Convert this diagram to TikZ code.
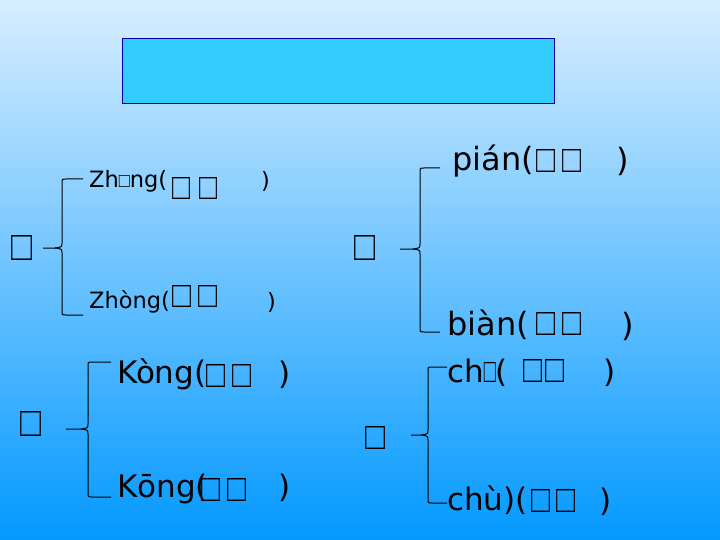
\documentclass[tikz,border=0pt]{standalone}
\usepackage{fontspec}
\usepackage{graphicx}
\setmainfont{DejaVu Sans}
\newfontfamily\boxfont{Liberation Sans}

\definecolor{bgtop}{RGB}{216,238,255}
\definecolor{bgbot}{RGB}{3,153,255}
\definecolor{titlefill}{RGB}{51,204,255}
\definecolor{titleline}{RGB}{0,0,170}

% placeholder glyph scaled to a given width and height
\newcommand\tofu[2]{\resizebox{#1}{#2}{\boxfont □}}
\newcommand\tofupair[3]{\tofu{#1}{#2}\hspace{#3}\tofu{#1}{#2}}

% brace: tip x, middle y, spine x, top y, bottom y, arm end x
\newcommand\groupbrace[6]{%
  \draw[bracestyle] (#6,#4) -- (#3+4,#4) .. controls (#3,#4) .. (#3,#4+4)
    -- (#3,#2-5) .. controls (#3,#2-1) .. (#3-7,#2) -- (#1,#2);
  \draw[bracestyle] (#3-7,#2) .. controls (#3,#2+1) .. (#3,#2+5)
    -- (#3,#5-4) .. controls (#3,#5) .. (#3+4,#5) -- (#6,#5);
}

\begin{document}
\begin{tikzpicture}[x=1pt,y=-1pt,
  bracestyle/.style={draw=black,line width=1pt},
  small/.style={inner sep=0pt,anchor=base west,font=\fontsize{22.5}{22.5}\selectfont},
  large/.style={inner sep=0pt,anchor=base west,font=\fontsize{31}{31}\selectfont},
  larger/.style={inner sep=0pt,anchor=base west,font=\fontsize{32}{32}\selectfont},
  boxes/.style={inner sep=0pt,anchor=south west}]

% background and title panel
\shade[top color=bgtop,bottom color=bgbot] (0,0) rectangle (720,540);
\useasboundingbox (0,0) rectangle (720,540);
\node[draw=titleline,fill=titlefill,line width=0.9pt,inner sep=0pt,
      minimum width=432pt,minimum height=65pt,anchor=north west] (title) at (122,38) {};

% group 1
\node[boxes] (m1) at (11,261) {\tofu{21pt}{25pt}};
\groupbrace{43}{248}{62}{179}{315}{83}
\node[small] (z1) at (89,188) {Zh\tofu{11pt}{12pt}ng(};
\node[boxes] (z1b) at (172,200) {\tofupair{18pt}{22pt}{9pt}};
\node[small] (z1r) at (261,189) {)};
\node[small] (z2) at (89,308) {Zhòng(};
\node[boxes] (z2b) at (172,308) {\tofupair{19pt}{22pt}{7pt}};
\node[small] (z2r) at (267,309) {)};

% group 2
\node[boxes] (m2) at (354,261) {\tofu{21pt}{25pt}};
\groupbrace{400}{249}{420}{168}{332}{440}
\node[larger] (p1) at (452,171) {pián(};
\node[boxes] (p1b) at (536,173) {\tofupair{19pt}{23pt}{7pt}};
\node[larger] (p1r) at (616,172) {)};
\node[larger] (b1) at (447,335) {biàn(};
\node[boxes] (b1b) at (536,336) {\tofupair{19pt}{23pt}{7pt}};
\node[larger] (b1r) at (621,336) {)};

% group 3
\node[boxes] (m3) at (20,437) {\tofu{21pt}{25pt}};
\groupbrace{66}{429}{88}{362}{497}{111}
\node[large] (k1) at (117,383) {Kòng(};
\node[boxes] (k1b) at (206,388) {\tofupair{19pt}{23pt}{7pt}};
\node[large] (k1r) at (278,384) {)};
\node[large] (k2) at (117,497) {Kōng(};
\node[boxes] (k2b) at (201,502) {\tofupair{19pt}{23pt}{7pt}};
\node[large] (k2r) at (278,497) {)};

% group 4
\node[boxes] (m4) at (365,450) {\tofu{20pt}{23pt}};
\groupbrace{411}{435}{428}{367}{503}{447}
\node[large] (c1) at (447,382) {ch\tofu{12pt}{20pt}(};
\node[boxes] (c1b) at (523,383) {\tofupair{19pt}{23pt}{3pt}};
\node[large] (c1r) at (603,382) {)};
\node[large] (c2) at (447,510) {chù)(};
\node[boxes] (c2b) at (531,513) {\tofupair{19pt}{23pt}{6pt}};
\node[large] (c2r) at (599,511) {)};
\end{tikzpicture}
\end{document}
